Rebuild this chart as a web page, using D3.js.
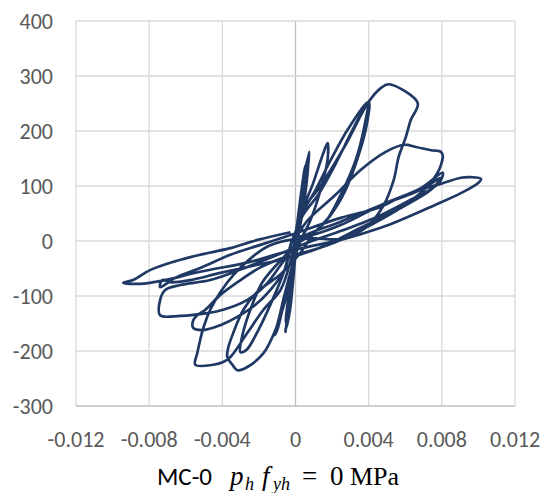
<!DOCTYPE html>
<html>
<head>
<meta charset="utf-8">
<script src="https://cdn.jsdelivr.net/npm/d3@7"></script>
<style>
  body { margin: 0; background: #fff; }
  .tick-label { font-family: Calibri, Carlito, "Open Sans", sans-serif; font-size: 22px; fill: #595959; }
</style>
</head>
<body>
<div id="chart"></div>
<script>
// Tick values
var xTicks = [-0.012, -0.008, -0.004, 0, 0.004, 0.008, 0.012];
var yTicks = [-300, -200, -100, 0, 100, 200, 300, 400];

// Hysteresis cycles, [strain, load]
var cycle1 = [[0, 0], [0.00016, 47], [0.00033, 93], [0.00049, 129], [0.00055, 138], [0.00044, 102], [0.00027, 47], [0.00011, 0],
  [-0.00016, -62], [-0.00033, -107], [-0.00049, -140], [-0.00055, -147], [-0.00044, -116], [-0.00022, -62], [-0.00005, -7]];
var cycle2 = [[0.00005, 20], [0.0002, 60], [0.0004, 110], [0.0005, 132], [0.00042, 100], [0.00022, 40], [0.00005, 0],
  [-0.0002, -60], [-0.0004, -110], [-0.0005, -135], [-0.0004, -105], [-0.0002, -50], [0, 0]];
var cycle2b = [[0.0002, 40], [0.0004, 95], [0.0006, 140], [0.00068, 152], [0.00058, 125], [0.00035, 65], [0.00012, 10],
  [-0.0001, -45], [-0.0003, -100], [-0.00045, -140], [-0.00052, -152], [-0.00042, -128], [-0.00025, -80], [-0.00008, -30]];
var cycle2c = [[0.0001, 25], [0.00032, 80], [0.00052, 125], [0.00062, 145], [0.00055, 128], [0.00038, 85], [0.00018, 30],
  [-0.00005, -30], [-0.00025, -85], [-0.0004, -125], [-0.00048, -145], [-0.00036, -118], [-0.0002, -70], [0, -20]];
var cycle3 = [[0.00005, 15], [0.00025, 60], [0.0005, 115], [0.00071, 144], [0.00062, 110], [0.0004, 55], [0.0001, 0],
  [-0.0002, -55], [-0.00035, -115], [-0.0005, -158], [-0.0003, -125], [-0.0001, -60], [0.00005, -5]];
var cycle4 = [[0, 0], [0.00027, 47], [0.00093, 102], [0.00148, 156], [0.00175, 178], [0.00175, 147], [0.00137, 93], [0.00082, 38], [0.00027, 0],
  [-0.00016, -44], [-0.0006, -98], [-0.00093, -144], [-0.00115, -171], [-0.001, -162], [-0.00066, -116], [-0.00027, -62], [-0.00005, -16]];
var cycle4b = [[0.00015, 30], [0.0004, 85], [0.0006, 135], [0.00075, 162], [0.0007, 140], [0.0005, 90], [0.0002, 25],
  [-0.0001, -40], [-0.0003, -95], [-0.00045, -140], [-0.00055, -165], [-0.00045, -140], [-0.0003, -95], [-0.0001, -40]];
var cycle5 = [[0.00027, 42], [0.0011, 93], [0.00192, 147], [0.0029, 205], [0.004, 253],
  [0.00389, 211], [0.00345, 156], [0.00274, 93], [0.00192, 47], [0.00093, 11], [0.0003, -20],
  [-0.0008, -60], [-0.00208, -92], [-0.00285, -125], [-0.0034, -167], [-0.00367, -193], [-0.00373, -211], [-0.00345, -225], [-0.00318, -235],
  [-0.00263, -229], [-0.00175, -204], [-0.0011, -162], [-0.00055, -107], [-0.00016, -53], [0.0001, 0]];
var cycle6 = [[0.0003, 40], [0.00126, 85], [0.00219, 140], [0.00312, 202], [0.00395, 251],
  [0.00378, 211], [0.00329, 147], [0.00247, 84], [0.00164, 35], [0.00071, 8], [0.0001, -5],
  [-0.0008, -35], [-0.00181, -75], [-0.00247, -125], [-0.0029, -171], [-0.00301, -202],
  [-0.00268, -198], [-0.00203, -162], [-0.00126, -107], [-0.0006, -53], [-0.0002, 0]];
var cycle7 = [[0.0002, 45], [0.00137, 100], [0.00274, 175], [0.004, 253], [0.00466, 278], [0.0051, 285], [0.00668, 251],
  [0.0063, 220], [0.00603, 189], [0.00564, 153], [0.00537, 111], [0.00482, 65], [0.00384, 24], [0.00247, 4], [0.001, 5],
  [-0.0003, 2], [-0.00153, -10], [-0.00247, -32], [-0.0034, -62], [-0.00411, -93], [-0.00466, -125], [-0.00504, -158], [-0.00521, -180], [-0.00537, -204], [-0.00548, -225],
  [-0.00449, -225], [-0.00395, -220], [-0.00356, -211], [-0.00263, -167], [-0.00175, -125], [-0.00082, -89], [-0.0003, -40], [0, 10]];
var cycle8 = [[0.0006, 35], [0.00219, 84], [0.00356, 129], [0.00493, 162], [0.00592, 175], [0.00658, 171], [0.0074, 165], [0.00795, 162], [0.00805, 155], [0.00795, 138], [0.00773, 122],
  [0.00712, 96], [0.00575, 60], [0.00411, 29], [0.00247, 2], [0.0008, -18],
  [-0.0008, -32], [-0.00192, -48], [-0.00301, -71], [-0.00411, -98], [-0.00493, -125], [-0.00537, -135], [-0.00559, -144], [-0.00559, -158],
  [-0.00504, -162], [-0.00411, -153], [-0.00318, -138], [-0.00219, -116], [-0.00137, -89], [-0.00055, -49], [-0.0001, 5]];
var cycle9 = [[0.00082, 10], [0.00247, 29], [0.00466, 65], [0.00685, 96], [0.00805, 124],
  [0.00784, 105], [0.0063, 75], [0.00466, 47], [0.00247, 18], [0.0009, 0],
  [-0.0012, -28], [-0.00301, -52], [-0.00466, -71], [-0.0063, -80], [-0.00712, -89], [-0.0074, -107], [-0.0074, -135],
  [-0.0063, -136], [-0.00482, -131], [-0.00395, -125], [-0.00263, -107], [-0.00164, -80], [-0.00082, -44], [-0.0003, -20]];
var cycle10 = [[0.00027, 5], [0.00247, 35], [0.00466, 65], [0.00685, 93], [0.00795, 115],
  [0.0074, 93], [0.00575, 60], [0.00356, 24], [0.00137, -12],
  [-0.0003, -30], [-0.00192, -42], [-0.00411, -58], [-0.00575, -71], [-0.00685, -75], [-0.00729, -71], [-0.0074, -84],
  [-0.00658, -67], [-0.00521, -49], [-0.00356, -25], [-0.00192, -7], [-0.00027, 11]];
var cycle11 = [[0.00247, 42], [0.00466, 62], [0.00575, 80], [0.00701, 95], [0.00805, 105], [0.00904, 115], [0.00959, 116], [0.01014, 113],
  [0.00997, 105], [0.00904, 87], [0.0074, 62], [0.00575, 38], [0.00466, 24], [0.00247, 2], [0.0005, -12],
  [-0.0008, -22], [-0.00247, -38], [-0.00521, -56], [-0.0074, -73], [-0.00849, -78], [-0.00942, -76],
  [-0.00888, -71], [-0.00795, -53], [-0.00668, -38], [-0.00521, -25], [-0.00356, -13], [-0.00208, 2], [-0.00027, 16]];

var cycles = [cycle1, cycle2, cycle2b, cycle1, cycle2c, cycle3, cycle4b, cycle4, cycle2b, cycle5, cycle2c,
  cycle6, cycle4b, cycle7, cycle2, cycle8, cycle9, cycle10, cycle11];

var svgWidth = 544;
var svgHeight = 493;

var margin = { top: 21, bottom: 87, left: 76, right: 29 };
var width = svgWidth - margin.left - margin.right;
var height = svgHeight - margin.top - margin.bottom;

var svg = d3.select("#chart")
  .append("svg")
  .attr("width", svgWidth)
  .attr("height", svgHeight);

var xScale = d3.scaleLinear().domain([-0.012, 0.012]).range([margin.left, margin.left + width]);
var yScale = d3.scaleLinear().domain([-300, 400]).range([margin.top + height, margin.top]);

// Grid lines
svg.append("g").selectAll("line")
  .data(xTicks)
  .enter()
  .append("line")
  .attr("x1", d => xScale(d))
  .attr("x2", d => xScale(d))
  .attr("y1", yScale(400))
  .attr("y2", yScale(-300))
  .attr("stroke", d => d === 0 ? "#bfbfbf" : "#d9d9d9")
  .attr("stroke-width", 1.3);

svg.append("g").selectAll("line")
  .data(yTicks)
  .enter()
  .append("line")
  .attr("x1", xScale(-0.012))
  .attr("x2", xScale(0.012))
  .attr("y1", d => yScale(d))
  .attr("y2", d => yScale(d))
  .attr("stroke", d => d === -300 ? "#bfbfbf" : "#d9d9d9")
  .attr("stroke-width", 1.3);

// Tick labels
svg.append("g").selectAll("text")
  .data(yTicks)
  .enter()
  .append("text")
  .attr("class", "tick-label")
  .attr("x", 53)
  .attr("y", d => yScale(d))
  .attr("dy", "0.35em")
  .attr("text-anchor", "end")
  .text(d => d);

svg.append("g").selectAll("text")
  .data(xTicks)
  .enter()
  .append("text")
  .attr("class", "tick-label")
  .attr("x", d => xScale(d))
  .attr("y", 447)
  .attr("text-anchor", "middle")
  .text(d => d === 0 ? "0" : d3.format(".3f")(d).replace("−", "-"));

// The hysteresis curve
var allPoints = [].concat.apply([], cycles);

var line = d3.line()
  .x(d => xScale(d[0]))
  .y(d => yScale(d[1]))
  .curve(d3.curveCatmullRom.alpha(0.5));

svg.append("path")
  .datum(allPoints)
  .attr("d", line)
  .attr("fill", "none")
  .attr("stroke", "#1f3864")
  .attr("stroke-width", 2.7)
  .attr("stroke-linejoin", "round");

// Title
var title = svg.append("text")
  .attr("y", 485)
  .attr("fill", "#000");

title.append("tspan")
  .attr("x", 157)
  .attr("font-family", "Calibri, Carlito, 'Open Sans', sans-serif")
  .attr("font-size", 25)
  .text("MC-0");

var mathFont = "'Liberation Serif', 'DejaVu Serif', serif";
title.append("tspan").attr("x", 230).attr("font-family", mathFont).attr("font-size", 27).attr("font-style", "italic").text("p");
title.append("tspan").attr("x", 245).attr("font-family", mathFont).attr("font-size", 18).attr("font-style", "italic").attr("dy", 5).text("h");
title.append("tspan").attr("x", 262).attr("font-family", mathFont).attr("font-size", 27).attr("font-style", "italic").attr("dy", -5).text("f");
title.append("tspan").attr("x", 273).attr("font-family", mathFont).attr("font-size", 18).attr("font-style", "italic").attr("dy", 5).text("yh");
title.append("tspan").attr("x", 302).attr("font-family", mathFont).attr("font-size", 27).attr("dy", -5).text("=");
title.append("tspan").attr("x", 330).attr("font-family", mathFont).attr("font-size", 27).text("0");
title.append("tspan").attr("x", 350).attr("font-family", mathFont).attr("font-size", 26).text("MPa");
</script>
</body>
</html>
